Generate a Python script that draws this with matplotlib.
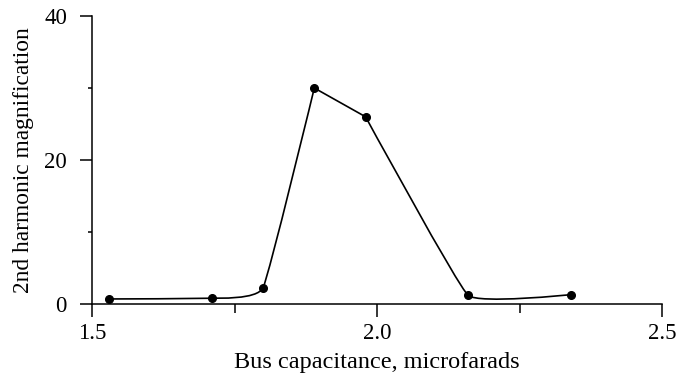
import numpy as np
import matplotlib
matplotlib.use("Agg")
import matplotlib.pyplot as plt
from matplotlib.path import Path
from matplotlib.patches import PathPatch
from matplotlib.ticker import MultipleLocator

# measured points: bus capacitance (uF) vs 2nd harmonic magnification
capacitance = [1.53, 1.71, 1.80, 1.89, 1.98, 2.16, 2.34]
magnification = [0.7, 0.8, 2.25, 30.0, 26.0, 1.2, 1.3]

x_ticks = [1.5, 2.0, 2.5]
y_ticks = [0, 20, 40]

# how much the curve is rounded at each point (0 = sharp corner)
rounding = [0.0, 0.2, 0.35, 0.0, 0.0, 0.3, 0.0]


def smooth_path(xs, ys, tension):
    """Cardinal-style curve through the points, built from cubic Bezier segments."""
    pts = np.column_stack([xs, ys])
    n = len(pts)
    tangents = []
    for i in range(n):
        prev_pt = pts[max(i - 1, 0)]
        next_pt = pts[min(i + 1, n - 1)]
        tangents.append(tension[i] * (next_pt - prev_pt) / 2.0)
    verts = [pts[0]]
    codes = [Path.MOVETO]
    for i in range(n - 1):
        verts += [pts[i] + tangents[i] / 3.0,
                  pts[i + 1] - tangents[i + 1] / 3.0,
                  pts[i + 1]]
        codes += [Path.CURVE4] * 3
    return Path(verts, codes)


plt.rcParams['font.family'] = ['Liberation Serif', 'DejaVu Serif']

fig = plt.figure(figsize=(6.76, 3.87), dpi=100)
ax = fig.add_axes([92 / 676, 83 / 387, 570 / 676, 288 / 387])

curve = PathPatch(smooth_path(capacitance, magnification, rounding),
                  facecolor='none', edgecolor='black', linewidth=1.2)
ax.add_patch(curve)
ax.plot(capacitance, magnification, 'o', color='black', markersize=5.5)

ax.set_xlim(1.5, 2.5)
ax.set_ylim(0, 40)
ax.set_xticks(x_ticks)
ax.set_xticklabels(['1.5', '2.0', '2.5'])
ax.set_yticks(y_ticks)
ax.xaxis.set_minor_locator(MultipleLocator(0.25))
ax.yaxis.set_minor_locator(MultipleLocator(10))

for side in ['top', 'right']:
    ax.spines[side].set_visible(False)
for side in ['left', 'bottom']:
    ax.spines[side].set_linewidth(1.1)

ax.tick_params(axis='x', which='major', direction='out', length=9.5, width=1.1,
               labelsize=16.5, pad=4)
ax.tick_params(axis='x', which='minor', direction='out', length=6.5, width=1.1)
ax.tick_params(axis='y', which='major', direction='out', length=9, width=1.1,
               labelsize=16.5, pad=9)
ax.tick_params(axis='y', which='minor', direction='out', length=3, width=1.1)

ax.set_xlabel('Bus capacitance, microfarads', fontsize=17.5, labelpad=6)
ax.set_ylabel('2nd harmonic magnification', fontsize=16.8, labelpad=7)

fig.savefig('out.png', dpi=100)
